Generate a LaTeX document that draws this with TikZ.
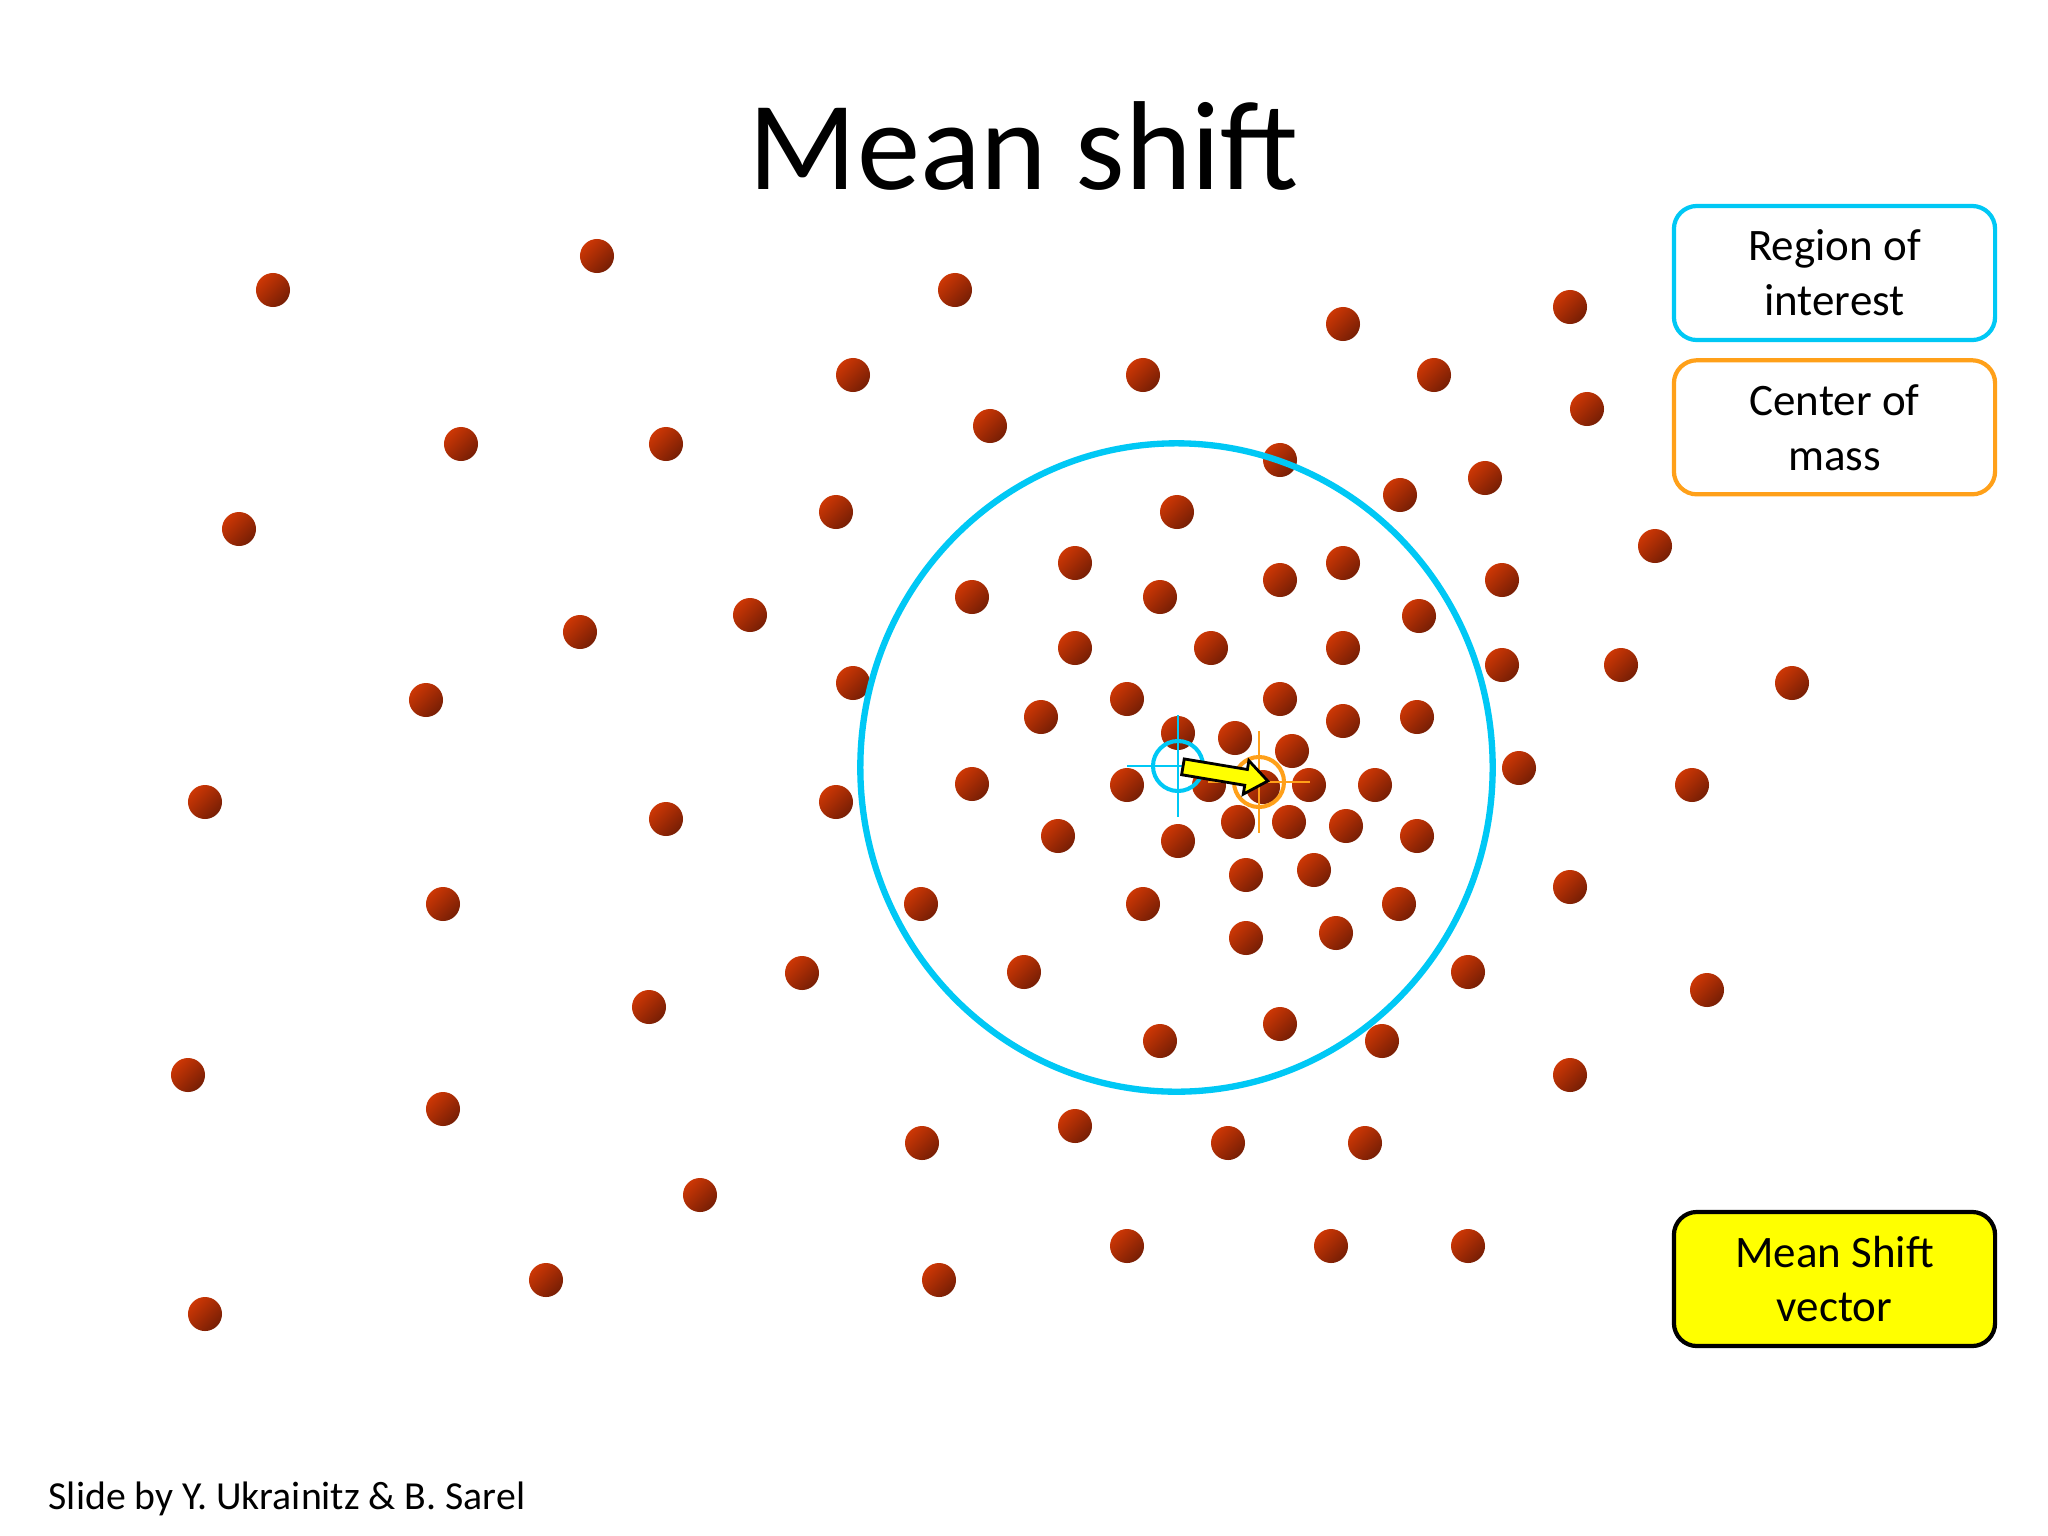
\documentclass[tikz,border=0pt]{standalone}
\usepackage{fontspec}
\setmainfont{Carlito}
\usepackage{xcolor}
\usetikzlibrary{positioning}
\definecolor{roiblue}{RGB}{0,200,245}
\definecolor{comorange}{RGB}{255,160,25}
\definecolor{balllight}{RGB}{205,55,5}
\definecolor{balldark}{RGB}{118,30,5}
\definecolor{msyellow}{RGB}{255,255,0}
\tikzset{
  ball/.style={top color=balllight, bottom color=balldark, shading angle=45},
  legend/.style={draw, line width=1.2pt, rounded corners=0.23cm,
                 minimum width=3.21cm, minimum height=1.34cm, inner sep=0pt,
                 align=center, font=\fontsize{12.8}{15.6}\selectfont},
  window/.style={line width=1.8pt, draw=roiblue},
  mark ring/.style={line width=1.15pt},
  hair/.style={line width=0.6pt},
  shiftvec/.style={draw=black, fill=msyellow, line width=0.8pt, line join=miter}
}

\begin{document}
\begin{tikzpicture}[x=0.01cm, y=-0.01cm]
  \useasboundingbox[fill=white] (0,0) rectangle (2048,1536);

  % title and credit
  \node[anchor=base, inner sep=0pt, font=\fontsize{36}{43}\selectfont] (title)
    at (1024,189) {Mean shift};
  \node[anchor=base west, inner sep=0pt, font=\fontsize{11.3}{13}\selectfont] (credit)
    at (48,1509) {Slide by Y.~Ukrainitz \& B.~Sarel};

  % data points
  \foreach \px/\py in {
    273/290, 597/256, 955/290, 1343/324, 1570/307, 853/375, 1143/375, 1434/375,
    1587/409, 461/444, 666/444, 990/426, 1280/460, 1400/495, 1485/478, 239/529,
    836/512, 1177/512, 1655/546, 1075/563, 1343/563, 1280/580, 1502/580, 972/597,
    1160/597, 580/632, 750/615, 1419/616, 1075/648, 1211/648, 1343/648, 1502/665,
    1621/665, 426/700, 853/683, 1127/699, 1280/699, 1792/683, 1041/717, 1343/721,
    1417/717, 1178/733, 1235/738, 1292/751, 1519/768, 205/802, 836/802, 972/784,
    1127/785, 1209/785, 1263/787, 1309/785, 1375/785, 1692/785, 666/819, 1058/836,
    1178/841, 1238/822, 1289/822, 1346/826, 1417/836, 1246/875, 1314/870, 443/904,
    921/904, 1143/904, 1399/904, 1570/887, 1246/938, 1336/933, 802/973, 1024/972,
    1468/972, 649/1007, 1707/990, 1160/1041, 1280/1024, 1382/1041, 188/1075,
    1570/1075, 443/1109, 1075/1126, 922/1143, 1228/1143, 1365/1143, 700/1195,
    1127/1246, 1331/1246, 1468/1246, 546/1280, 939/1280, 205/1314}
    \shade[ball] (\px,\py) circle (0.17cm);

  \coordinate (roi) at (1178,766);
  \coordinate (com) at (1259,782);

  % region of interest
  \draw[window] (1176.5,767.5) ellipse (3.16cm and 3.24cm);

  % window centre and centre of mass
  \draw[roiblue, hair] (roi) ++(-51,0) -- ++(102,0);
  \draw[roiblue, hair] (roi) ++(0,-51) -- ++(0,102);
  \draw[roiblue, mark ring] (roi) circle (0.25cm);
  \draw[comorange, hair] (com) ++(-51,0) -- ++(102,0);
  \draw[comorange, hair] (com) ++(0,-51) -- ++(0,102);
  \draw[comorange, mark ring] (com) circle (0.25cm);

  % mean shift vector
  \begin{scope}[shift={(roi)}, rotate=-9.5]
    \draw[shiftvec] (5,-8) -- (69,-8) -- (69,-17) -- (91,0) -- (69,17)
      -- (69,8) -- (5,8) -- cycle;
  \end{scope}

  % legend
  \node[legend, draw=roiblue] (roibox) at (1834.5,273) {Region of\\interest};
  \node[legend, draw=comorange, below=0.16cm of roibox] (combox) {Center of\\mass};
  \node[legend, draw=black, fill=msyellow] (msbox) at (1834.5,1279) {Mean Shift\\vector};
\end{tikzpicture}
\end{document}
